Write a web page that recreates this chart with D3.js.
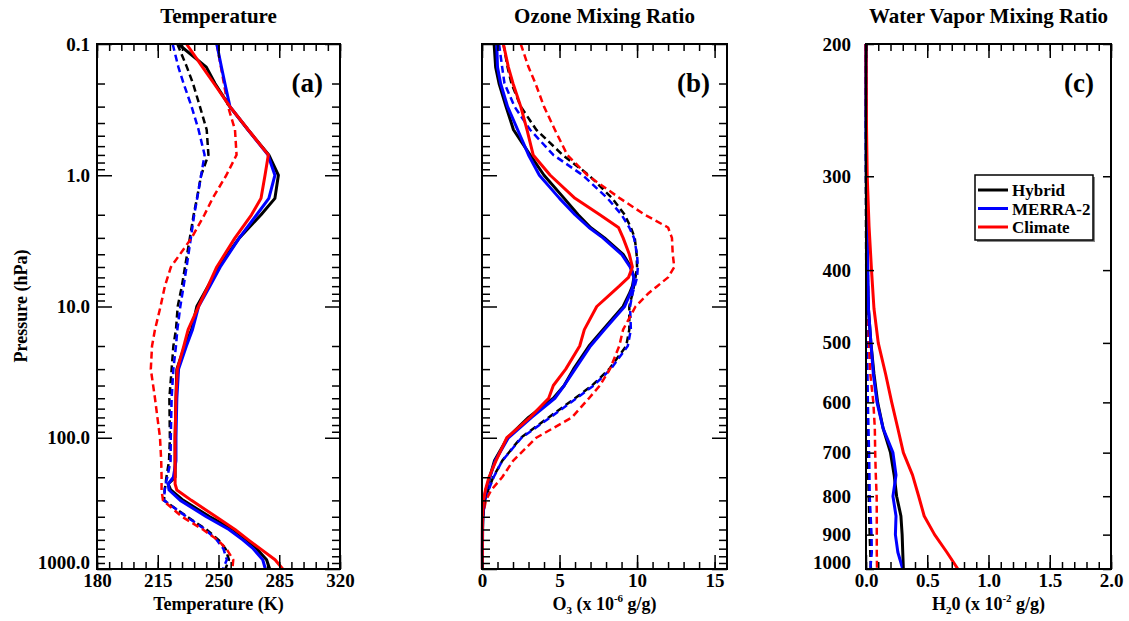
<!DOCTYPE html>
<html>
<head>
<meta charset="utf-8">
<script src="https://cdn.jsdelivr.net/npm/d3@7"></script>
<style>
body { margin: 0; background: #fff; }
svg text { font-family: "Liberation Serif", "Times New Roman", serif; font-weight: bold; }
</style>
</head>
<body>
<svg id="chart" width="1129" height="621"></svg>
<script>
// ---- (a) temperature, K ----
const levelsT = [0.1, 0.15, 0.2, 0.3, 0.45, 0.7, 1, 1.5, 2, 3, 5, 7, 10, 15, 20, 30, 50, 100, 150, 200, 225, 250, 300, 400, 500, 600, 700, 850, 1000];
const tHybrid   = [226.8, 243, 248, 256.5, 267, 279, 284.5, 282.5, 274.5, 262, 250, 244, 237.5, 234.5, 230.5, 226, 225.5, 225, 225, 225, 221, 222.5, 229.7, 245, 258.5, 266.2, 272, 277.7, 279.5];
const tMerra    = [249, 251.7, 253.7, 256.6, 267, 278.5, 282.5, 279, 272, 262, 251, 245, 238.5, 235, 231.5, 227, 226, 225.5, 225.5, 224, 221, 221.5, 228, 243, 256, 264, 270, 275.5, 277];
const tClimate  = [231.6, 240.8, 247.4, 256.6, 267.1, 278.7, 276.8, 274.5, 269, 259.5, 249, 244, 238.5, 232.5, 230, 226.3, 225.5, 225, 225, 225, 225, 226, 234.4, 248.6, 259.5, 267.2, 274, 282.6, 287];
const tHybrid2  = [226.3, 231.8, 235.3, 239.3, 243.2, 244.2, 240, 237.6, 235.7, 233.5, 230.7, 228.9, 226.5, 225.5, 224, 223, 221.7, 222, 221.5, 220, 219.5, 219, 218.6, 232, 243, 250, 254, 256, 254];
const tMerra2   = [223.6, 226.9, 229.9, 234.5, 238.5, 242, 240, 237.7, 236, 234.1, 231.6, 229.9, 228, 226.3, 225.5, 224, 223, 222.5, 222.4, 220.5, 219.5, 219, 218.6, 231.6, 242.2, 249, 252.8, 254.8, 252.6];
const tClimate2 = [249, 251.4, 253.1, 255.5, 259.5, 260.4, 254.5, 246.6, 241.9, 234.5, 222.6, 219.1, 216.6, 213.4, 211.7, 211, 213.4, 216.3, 217, 217.2, 217.2, 217.2, 218, 229, 241, 249.5, 254.5, 258.5, 258];

// ---- (b) ozone, x 10^-6 g/g ----
const levelsO3 = [0.1, 0.15, 0.2, 0.3, 0.45, 0.7, 1, 1.5, 2, 2.5, 3, 4, 5, 6, 7, 8, 10, 15, 20, 30, 40, 50, 70, 100, 150, 200, 250, 300, 400, 500, 700, 1000];
const oHybrid   = [0.78, 0.88, 1.1, 1.55, 2.03, 3.1, 4.0, 5.3, 6.2, 7.0, 7.9, 9.1, 9.6, 9.8, 9.7, 9.5, 9.1, 7.8, 6.9, 5.9, 5.3, 4.6, 3.0, 1.65, 0.8, 0.5, 0.27, 0.13, 0.06, 0.04, 0.03, 0.03];
const oMerra    = [0.95, 1.0, 1.2, 1.65, 2.3, 3.0, 3.7, 5.0, 6.0, 6.9, 7.8, 9.0, 9.55, 9.8, 9.75, 9.55, 9.2, 7.9, 7.0, 6.0, 5.3, 4.7, 3.2, 1.7, 0.85, 0.5, 0.25, 0.1, 0.05, 0.03, 0.02, 0.03];
const oClimate  = [1.38, 1.7, 2.0, 2.5, 2.9, 3.3, 4.4, 6.0, 7.6, 8.8, 9.1, 9.5, 9.7, 9.45, 8.85, 8.3, 7.4, 6.6, 6.3, 5.4, 4.6, 4.3, 3.1, 1.6, 0.9, 0.45, 0.22, 0.1, 0.03, 0.02, 0.02, 0.02];
const oHybrid2  = [1.38, 1.65, 1.9, 2.5, 3.5, 5.2, 6.9, 8.4, 9.2, 9.6, 9.85, 9.97, 10.0, 9.9, 9.8, 9.7, 9.5, 9.5, 9.3, 8.2, 7.1, 6.0, 4.3, 2.5, 1.3, 0.72, 0.4, 0.18, 0.06, 0.03, 0.02, 0.02];
const oMerra2   = [1.1, 1.3, 1.45, 2.1, 3.1, 4.6, 6.5, 8.1, 9.0, 9.5, 9.8, 10.0, 10.05, 10.0, 9.85, 9.7, 9.55, 9.6, 9.4, 8.3, 7.2, 6.1, 4.4, 2.55, 1.3, 0.75, 0.42, 0.2, 0.06, 0.02, 0.02, 0.02];
const oClimate2 = [2.5, 3.0, 3.45, 4.0, 4.7, 5.5, 6.8, 8.9, 10.5, 12.0, 12.25, 12.3, 12.4, 12.0, 11.3, 10.7, 9.9, 9.1, 8.85, 8.25, 7.6, 6.9, 5.8, 3.5, 2.0, 1.3, 0.6, 0.25, 0.05, 0.02, 0.02, 0.02];

// ---- (c) water vapor, x 10^-2 g/g ----
const levelsQ = [200, 250, 300, 350, 400, 450, 500, 550, 600, 650, 700, 750, 800, 850, 900, 950, 1000];
const qHybrid   = [0, 0, 0.002, 0.005, 0.01, 0.02, 0.04, 0.065, 0.095, 0.14, 0.2, 0.23, 0.25, 0.285, 0.295, 0.3, 0.305];
const qMerra    = [0, 0, 0.003, 0.008, 0.015, 0.02, 0.04, 0.06, 0.09, 0.14, 0.22, 0.245, 0.22, 0.245, 0.24, 0.26, 0.3];
const qClimate  = [0, 0.003, 0.01, 0.025, 0.045, 0.065, 0.1, 0.16, 0.21, 0.26, 0.305, 0.38, 0.43, 0.475, 0.56, 0.66, 0.75];
const qHybrid2  = [0, 0, 0, 0, 0.002, 0.003, 0.004, 0.005, 0.006, 0.01, 0.015, 0.018, 0.022, 0.026, 0.03, 0.035, 0.04];
const qMerra2   = [0, 0, 0, 0.002, 0.004, 0.006, 0.01, 0.012, 0.015, 0.02, 0.025, 0.028, 0.03, 0.038, 0.045, 0.047, 0.035];
const qClimate2 = [0, 0, 0.005, 0.008, 0.015, 0.018, 0.025, 0.035, 0.06, 0.072, 0.075, 0.08, 0.087, 0.088, 0.088, 0.088, 0.09];

const seriesNames = ["Hybrid", "MERRA-2", "Climate"];
const seriesColors = ["#000000", "#0000ff", "#ff0000"];

const presMajor = [0.1, 1, 10, 100, 1000];
const presMinor = [];
[0.1, 1, 10, 100].forEach(d => { for (let k = 2; k <= 9; k++) presMinor.push(d * k); });
const presC = [200, 300, 400, 500, 600, 700, 800, 900, 1000];

const svg = d3.select("#chart");
const plotTop = 44, plotBottom = 569;

function drawPanel(cfg) {
    const g = svg.append("g");
    const x = d3.scaleLinear().domain(cfg.xDomain).range([cfg.left, cfg.right]);
    const y = d3.scaleLog().domain(cfg.yDomain).range([plotTop, plotBottom]);

    // lines: dashed set first, solid on top
    const line = d3.line().x(d => x(d[1])).y(d => y(d[0]));
    const sets = [
        {vals: cfg.dashed, dash: "7,4", w: 2.5},
        {vals: cfg.solid, dash: null, w: 3}
    ];
    sets.forEach(s => {
        s.vals.forEach((v, i) => {
            g.append("path")
                .datum(cfg.levels.map((p, j) => [p, v[j]]))
                .attr("fill", "none")
                .attr("stroke", seriesColors[i])
                .attr("stroke-width", s.w)
                .attr("stroke-dasharray", s.dash)
                .attr("stroke-linejoin", "round")
                .attr("d", line);
        });
    });

    function ticks(axis, tr, size, values, fmt, pad) {
        const a = g.append("g")
            .attr("transform", tr)
            .call(axis.tickValues(values).tickSize(-size).tickPadding(pad || 6).tickFormat(fmt || ""));
        a.select(".domain").remove();
        a.attr("font-family", null).attr("font-size", 19);
        a.selectAll("line").attr("stroke", "#000").attr("stroke-width", 1.5);
        return a;
    }

    // y ticks
    let yLab;
    if (cfg.log) {
        yLab = ticks(d3.axisLeft(y), `translate(${cfg.left},0)`, 15, presMajor, cfg.yLabels ? d3.format(".1f") : "", 7);
        ticks(d3.axisLeft(y), `translate(${cfg.left},0)`, 8, presMinor);
        ticks(d3.axisRight(y), `translate(${cfg.right},0)`, 15, presMajor);
        ticks(d3.axisRight(y), `translate(${cfg.right},0)`, 8, presMinor);
    } else {
        yLab = ticks(d3.axisLeft(y), `translate(${cfg.left},0)`, 8, presC, d3.format("d"), 15);
        ticks(d3.axisRight(y), `translate(${cfg.right},0)`, 8, presC);
    }
    // lift the bottom pressure label so it clears the x labels
    yLab.selectAll(".tick").filter(d => d === 1000).select("text").attr("dy", "-0.05em");

    // x ticks
    ticks(d3.axisBottom(x), `translate(0,${plotBottom})`, 14, cfg.xMajor, cfg.xFmt, 5);
    ticks(d3.axisBottom(x), `translate(0,${plotBottom})`, 7, cfg.xMinor);
    ticks(d3.axisTop(x), `translate(0,${plotTop})`, 14, cfg.xMajor);
    ticks(d3.axisTop(x), `translate(0,${plotTop})`, 7, cfg.xMinor);

    // frame
    g.append("rect")
        .attr("x", cfg.left).attr("y", plotTop)
        .attr("width", cfg.right - cfg.left).attr("height", plotBottom - plotTop)
        .attr("fill", "none").attr("stroke", "#000").attr("stroke-width", 2);

    const cx = (cfg.left + cfg.right) / 2;
    g.append("text").attr("x", cx).attr("y", 23).attr("text-anchor", "middle")
        .attr("font-size", 21).text(cfg.title);
    g.append("text").attr("x", cfg.right - 17).attr("y", 92).attr("text-anchor", "end")
        .attr("font-size", 27).text(cfg.tag);

    const lab = g.append("text").attr("x", cx).attr("y", 610).attr("text-anchor", "middle").attr("font-size", 18);
    cfg.xTitle.forEach(part => {
        const t = lab.append("tspan").text(part.t);
        if (part.sub) t.attr("font-size", 11).attr("dy", 4);
        if (part.sup) t.attr("font-size", 11).attr("dy", -8);
        if (part.back) t.attr("dy", part.back);
    });
}

const minorRange = (a, b, s) => d3.range(0, Math.round((b - a) / s) + 1).map(i => a + i * s);

drawPanel({
    left: 97, right: 340, xDomain: [180, 320], yDomain: [0.1, 1000], log: true, yLabels: true,
    levels: levelsT, solid: [tHybrid, tMerra, tClimate], dashed: [tHybrid2, tMerra2, tClimate2],
    xMajor: [180, 215, 250, 285, 320], xMinor: minorRange(180, 320, 7), xFmt: d3.format("d"),
    title: "Temperature", tag: "(a)", xTitle: [{t: "Temperature (K)"}]
});

drawPanel({
    left: 482, right: 727, xDomain: [0, 15.8], yDomain: [0.1, 1000], log: true, yLabels: false,
    levels: levelsO3, solid: [oHybrid, oMerra, oClimate], dashed: [oHybrid2, oMerra2, oClimate2],
    xMajor: [0, 5, 10, 15], xMinor: minorRange(0, 15, 1), xFmt: d3.format("d"),
    title: "Ozone Mixing Ratio", tag: "(b)",
    xTitle: [{t: "O"}, {t: "3", sub: true}, {t: " (x 10", back: -4}, {t: "-6", sup: true}, {t: " g/g)", back: 8}]
});

drawPanel({
    left: 866, right: 1111, xDomain: [0, 2], yDomain: [200, 1000], log: false,
    levels: levelsQ, solid: [qHybrid, qMerra, qClimate], dashed: [qHybrid2, qMerra2, qClimate2],
    xMajor: [0, 0.5, 1, 1.5, 2], xMinor: minorRange(0, 2, 0.1), xFmt: d3.format(".1f"),
    title: "Water Vapor Mixing Ratio", tag: "(c)",
    xTitle: [{t: "H"}, {t: "2", sub: true}, {t: "0 (x 10", back: -4}, {t: "-2", sup: true}, {t: " g/g)", back: 8}]
});

// y axis title
svg.append("text")
    .attr("transform", "translate(27,306) rotate(-90)")
    .attr("text-anchor", "middle").attr("font-size", 18)
    .text("Pressure (hPa)");

// legend
const lg = svg.append("g").attr("transform", "translate(975,175)");
lg.append("rect").attr("x", 2).attr("y", 2).attr("width", 118).attr("height", 65).attr("fill", "#888");
lg.append("rect").attr("width", 118).attr("height", 65).attr("fill", "#fff").attr("stroke", "#000").attr("stroke-width", 1.5);
seriesNames.forEach((n, i) => {
    const yy = 15 + i * 18.5;
    lg.append("line").attr("x1", 3).attr("x2", 33).attr("y1", yy).attr("y2", yy)
        .attr("stroke", seriesColors[i]).attr("stroke-width", 3);
    lg.append("text").attr("x", 37).attr("y", yy + 6).attr("font-size", 17).text(n);
});
</script>
</body>
</html>
